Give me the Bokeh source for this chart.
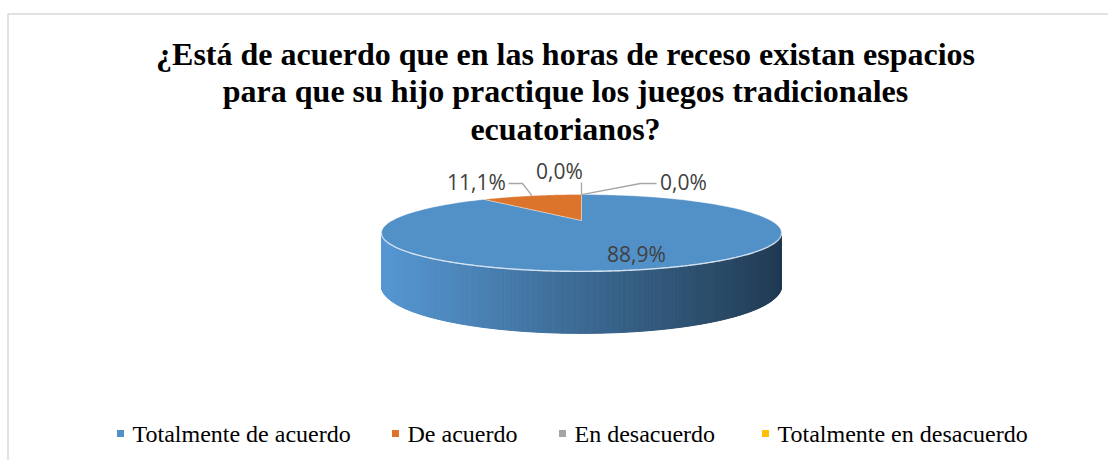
import numpy as np
from bokeh.plotting import figure
from bokeh.models import Range1d
from bokeh.core.properties import value
from bokeh.embed import file_html
from bokeh.resources import INLINE

# ---------------- data ----------------
categories = ["Totalmente de acuerdo", "De acuerdo", "En desacuerdo", "Totalmente en desacuerdo"]
percentages = [88.9, 11.1, 0.0, 0.0]
colors = ["#5290C8", "#DD742B", "#A5A5A5", "#FFC000"]
label_texts = ["88,9%", "11,1%", "0,0%", "0,0%"]
title_lines = [
    "¿Está de acuerdo que en las horas de receso existan espacios",
    "para que su hijo practique los juegos tradicionales",
    "ecuatorianos?",
]

# ---------------- layout ----------------
W, H = 1108, 460
p = figure(width=W, height=H, x_range=Range1d(0, W), y_range=Range1d(H, 0),
           output_backend="svg", toolbar_location=None, min_border=0)
p.xaxis.visible = False
p.yaxis.visible = False
p.xgrid.visible = False
p.ygrid.visible = False
p.outline_line_color = None
p.background_fill_color = "white"
p.border_fill_color = "white"

# chart area border (top and left)
p.line([7.5, W], [13.5, 13.5], line_color="#D9D9D9", line_width=1.5)
p.line([7.5, 7.5], [13.5, H], line_color="#D9D9D9", line_width=1.5)

# title
for i, t in enumerate(title_lines):
    p.text(x=[565], y=[53 + 37.5 * i], text=[t], text_font=value("Liberation Serif"),
           text_font_style="bold", text_font_size="32px", text_color="#000000",
           text_align="center", text_baseline="middle")

# ---------------- 3D pie projection ----------------
CX, CY = 581.0, 220.0
A, B, K = 189.2, 34.4, 0.324
D0, K2 = 49.6, 0.2


def proj(u, v):
    s = 1 + K * v
    return CX + A * u / s, CY - B * v / s


def depth(v):
    return D0 / (1 + K2 * v)


fracs = np.array(percentages) / sum(percentages)
bounds = np.concatenate([[0], np.cumsum(fracs)]) * 2 * np.pi  # clockwise from top


def slice_of(theta):
    th = theta % (2 * np.pi)
    for i in range(len(fracs)):
        if fracs[i] > 0 and bounds[i] <= th < bounds[i + 1]:
            return i
    return 0


def hex2rgb(h):
    h = h.lstrip("#")
    return np.array([int(h[i:i + 2], 16) for i in (0, 2, 4)], dtype=float)


# side (front arc) strips with horizontal shading
t0 = np.pi + np.arcsin(K)
t1 = 2 * np.pi - np.arcsin(K)
ts = np.linspace(t0, t1, 401)
uu, vv = np.cos(ts), np.sin(ts)
tx, ty = proj(uu, vv)
by = ty + depth(vv)
xl, xr = tx.min(), tx.max()
sx, sy, sc = [], [], []
for i in range(len(ts) - 1):
    xm = 0.5 * (tx[i] + tx[i + 1])
    tm = 0.5 * (ts[i] + ts[i + 1])
    th = np.arctan2(np.cos(tm), np.sin(tm))
    base = hex2rgb(colors[slice_of(th)])
    f = (xm - xl) / (xr - xl)
    fac = 1.06 - 0.64 * f
    rgb = np.clip(base * fac, 0, 255).astype(int)
    c = "#%02x%02x%02x" % tuple(rgb)
    sx.append([tx[i], tx[i + 1], tx[i + 1], tx[i]])
    sy.append([ty[i], ty[i + 1], by[i + 1], by[i]])
    sc.append(c)
p.patches(xs=sx, ys=sy, fill_color=sc, line_color=sc, line_width=1.0)

# top faces
for i in range(len(fracs)):
    if fracs[i] <= 0:
        continue
    th = np.linspace(bounds[i], bounds[i + 1], 200)
    px, py = proj(np.sin(th), np.cos(th))
    xs = np.concatenate([[CX], px, [CX]])
    ys = np.concatenate([[CY], py, [CY]])
    p.patch(xs, ys, fill_color=colors[i], line_color="#ffffff", line_width=0.6, line_alpha=0.6)

# highlight on the front edge of the top
p.line(tx, ty, line_color="#dce8f4", line_width=1.4, line_alpha=0.9)

# ---------------- data labels ----------------
label_font = value("Open Sans")
label_color = "#404040"
leader = "#A6A6A6"

# inside label for the largest slice
p.text(x=[636], y=[253], text=[label_texts[0]], text_font=label_font, text_font_size="21px",
       text_color=label_color, text_align="center", text_baseline="middle")

# outside labels with leader lines
mid1 = 0.5 * (bounds[1] + bounds[2])
ax1, ay1 = proj(np.sin(mid1), np.cos(mid1))
p.line([508, 522, ax1], [183, 183, ay1], line_color=leader, line_width=1.3)
p.text(x=[476], y=[181], text=[label_texts[1]], text_font=label_font, text_font_size="21px",
       text_color=label_color, text_align="center", text_baseline="middle")

ax2, ay2 = proj(np.sin(bounds[2]), np.cos(bounds[2]))
p.line([ax2, ax2], [ay2, 182], line_color=leader, line_width=1.3)
p.text(x=[559], y=[170], text=[label_texts[2]], text_font=label_font, text_font_size="21px",
       text_color=label_color, text_align="center", text_baseline="middle")

ax3, ay3 = proj(np.sin(bounds[3]), np.cos(bounds[3]))
p.line([ax3, 640, 656], [ay3, 183, 183], line_color=leader, line_width=1.3)
p.text(x=[683], y=[181], text=[label_texts[3]], text_font=label_font, text_font_size="21px",
       text_color=label_color, text_align="center", text_baseline="middle")

# ---------------- legend ----------------
leg_sq_x = [120, 395, 562, 765]
leg_y = 433
for i, name in enumerate(categories):
    p.rect(x=[leg_sq_x[i]], y=[leg_y], width=7, height=7, fill_color=colors[i], line_color=None)
    p.text(x=[leg_sq_x[i] + 12], y=[leg_y], text=[name], text_font=value("Liberation Serif"),
           text_font_size="24px", text_color="#000000", text_align="left", text_baseline="middle")

open("out.html", "w").write(file_html(p, INLINE))
